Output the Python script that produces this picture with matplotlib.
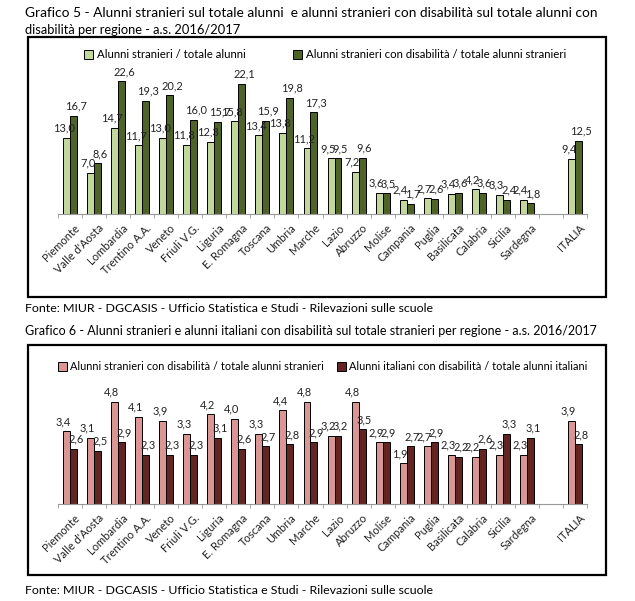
import numpy as np
import matplotlib
matplotlib.use("Agg")
import matplotlib.pyplot as plt
from matplotlib import patches

plt.rcParams['font.family'] = ['Lato', 'DejaVu Sans']

regions = ["Piemonte", "Valle d'Aosta", "Lombardia", "Trentino A.A.", "Veneto",
           "Friuli V.G.", "Liguria", "E. Romagna", "Toscana", "Umbria", "Marche",
           "Lazio", "Abruzzo", "Molise", "Campania", "Puglia", "Basilicata",
           "Calabria", "Sicilia", "Sardegna", "", "ITALIA"]

# Grafico 5
str_tot = [13.0, 7.0, 14.7, 11.7, 13.0, 11.8, 12.3, 15.8, 13.4, 13.8, 11.2,
           9.5, 7.2, 3.6, 2.4, 2.7, 3.4, 4.2, 3.3, 2.4, None, 9.4]
str_dis = [16.7, 8.6, 22.6, 19.3, 20.2, 16.0, 15.7, 22.1, 15.9, 19.8, 17.3,
           9.5, 9.6, 3.5, 1.7, 2.6, 3.6, 3.6, 2.4, 1.8, None, 12.5]

# Grafico 6
str_dis6 = [3.4, 3.1, 4.8, 4.1, 3.9, 3.3, 4.2, 4.0, 3.3, 4.4, 4.8,
            3.2, 4.8, 2.9, 1.9, 2.7, 2.3, 2.2, 2.3, 2.3, None, 3.9]
ita_dis6 = [2.6, 2.5, 2.9, 2.3, 2.3, 2.3, 3.1, 2.6, 2.7, 2.8, 2.9,
            3.2, 3.5, 2.9, 2.7, 2.9, 2.2, 2.6, 3.3, 3.1, None, 2.8]

W, H = 635, 601


def px(x, y):
    return x / W, 1 - y / H


def box(x0, y0, x1, y1):
    fx, fy = px(x0, y1)
    fig.add_artist(patches.Rectangle((fx, fy), (x1 - x0) / W, (y1 - y0) / H,
                                     transform=fig.transFigure, fill=False,
                                     lw=1.6, ec="black"))


def bar_chart(rect, s1, s2, c1, c2, ymax, fs=7.9):
    ax = fig.add_axes(rect)
    x = np.arange(len(regions))
    w = 0.29
    v1 = np.array([np.nan if v is None else v for v in s1])
    v2 = np.array([np.nan if v is None else v for v in s2])
    b1 = ax.bar(x - w / 2, v1, w, color=c1, edgecolor="black", lw=0.7)
    b2 = ax.bar(x + w / 2, v2, w, color=c2, edgecolor="black", lw=0.7)
    for b, v in zip(b1, s1):
        if v is not None:
            ax.annotate(f"{v:.1f}".replace(".", ","), (b.get_x() + b.get_width() / 2 - 0.12, v),
                        xytext=(0, 3), textcoords="offset points", ha="center",
                        va="bottom", fontsize=fs, color="#222222")
    for b, v in zip(b2, s2):
        if v is not None:
            ax.annotate(f"{v:.1f}".replace(".", ","), (b.get_x() + b.get_width() / 2 + 0.1, v),
                        xytext=(0, 3), textcoords="offset points", ha="center",
                        va="bottom", fontsize=fs, color="#222222")
    ax.set_xlim(-0.5, len(regions) - 0.5)
    ax.set_ylim(0, ymax)
    ax.set_xticks(x + 0.15)
    ax.set_xticklabels(regions, rotation=45, ha="right", rotation_mode="anchor",
                       fontsize=8.0, color="#222222")
    ax.tick_params(axis="x", length=0, pad=6)
    ax.set_xticks(np.arange(-0.5, len(regions)), minor=True)
    ax.tick_params(axis="x", which="minor", length=3, color="#999999")
    ax.set_yticks([])
    for s in ["top", "right", "left"]:
        ax.spines[s].set_visible(False)
    ax.spines["bottom"].set_color("#999999")
    ax.patch.set_alpha(0)
    return ax


fig = plt.figure(figsize=(W / 100, H / 100), dpi=100)

# ---- Grafico 5 ----
fig.text(*px(25, 13), "Grafico 5 - Alunni stranieri sul totale alunni  e alunni stranieri con disabilità sul totale alunni con",
         fontsize=9.9, va="center", ha="left")
fig.text(*px(25, 30), "disabilità per regione - a.s. 2016/2017", fontsize=9.3, va="center", ha="left")
box(28, 37, 606, 297)
ax1 = bar_chart([58 / W, 1 - 214 / H, 529 / W, 147 / H], str_tot, str_dis,
                "#c3d69b", "#4f6228", 25)
fig.legend(handles=ax1.containers, labels=["Alunni stranieri / totale alunni",
                                           "Alunni stranieri con disabilità / totale alunni stranieri"],
           loc="center", bbox_to_anchor=px(325, 55), ncol=2, frameon=False,
           fontsize=8.2, handlelength=0.8, handleheight=0.8, handletextpad=0.3,
           columnspacing=4.2)
fig.text(*px(25, 309), "Fonte: MIUR - DGCASIS - Ufficio Statistica e Studi - Rilevazioni sulle scuole",
         fontsize=8.9, va="center", ha="left")

# ---- Grafico 6 ----
fig.text(*px(25, 331), "Grafico 6 - Alunni stranieri e alunni italiani con disabilità sul totale stranieri per regione - a.s. 2016/2017",
         fontsize=9.0, va="center", ha="left")
box(28, 345, 606, 575)
ax2 = bar_chart([58 / W, 1 - 504 / H, 529 / W, 128 / H], str_dis6, ita_dis6,
                "#d99694", "#632523", 6)
fig.legend(handles=ax2.containers, labels=["Alunni stranieri con disabilità / totale alunni stranieri",
                                           "Alunni italiani con disabilità / totale alunni italiani"],
           loc="center", bbox_to_anchor=px(323, 367), ncol=2, frameon=False,
           fontsize=7.9, handlelength=0.8, handleheight=0.8, handletextpad=0.3,
           columnspacing=1.2)
fig.text(*px(25, 591), "Fonte: MIUR - DGCASIS - Ufficio Statistica e Studi - Rilevazioni sulle scuole",
         fontsize=8.9, va="center", ha="left")

fig.savefig("out.png", dpi=100)
